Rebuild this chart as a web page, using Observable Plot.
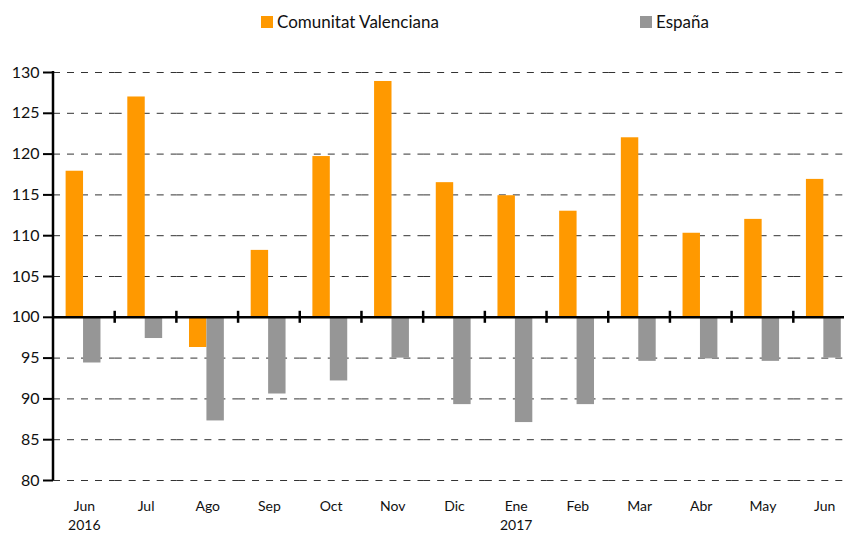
<!DOCTYPE html>
<html><head><meta charset="utf-8">
<script src="https://cdn.jsdelivr.net/npm/d3@7"></script>
<script src="https://cdn.jsdelivr.net/npm/@observablehq/plot@0.6"></script>
<style>
body{margin:0;background:#fff;overflow:hidden;width:844px;height:533px;font-family:Lato,sans-serif;}
#legend{position:relative;height:40px;width:844px;font-size:17px;color:#111;}
.sw{position:absolute;top:16px;width:12px;height:12px;}
.lt{position:absolute;top:12px;line-height:20px;white-space:nowrap;}
#chart{width:844px;overflow:hidden;}
</style></head><body>
<div id="legend"></div>
<div id="chart"></div>
<script>
const months = ["Jun","Jul","Ago","Sep","Oct","Nov","Dic","Ene","Feb","Mar","Abr","May","Jun"];
const years = ["2016","","","","","","","2017","","","","",""];
const seriesNames = ["Comunitat Valenciana","España"];
const seriesColors = ["#FF9900","#969696"];
const valenciana = [117.9,127.0,96.3,108.2,119.7,128.9,116.5,114.9,113.0,122.0,110.3,112.0,116.9];
const espana = [94.4,97.4,87.3,90.6,92.2,95.0,89.3,87.1,89.3,94.6,94.9,94.6,95.0];
const yTicks = [80,85,90,95,100,105,110,115,120,125,130];
const baseline = 100;

const rows = months.flatMap((m, i) => [
  {i, s: seriesNames[0], v: valenciana[i]},
  {i, s: seriesNames[1], v: espana[i]}
]);

// legend
const legend = document.getElementById("legend");
const legendLeft = [261, 640];
seriesNames.forEach((n, k) => {
  const sw = document.createElement("div");
  sw.className = "sw"; sw.style.left = legendLeft[k] + "px"; sw.style.background = seriesColors[k];
  const t = document.createElement("div");
  t.className = "lt"; t.style.left = (legendLeft[k] + 16) + "px"; t.textContent = n;
  legend.append(sw, t);
});

const chart = Plot.plot({
  width: 855, height: 493,
  marginLeft: 53, marginRight: 0, marginTop: 32, marginBottom: 53,
  style: {fontFamily: "Lato, sans-serif", maxWidth: "none", color: "#111"},
  fx: {domain: d3.range(months.length), padding: 0, round: false, label: null, axis: null},
  x: {domain: seriesNames, paddingInner: 0, paddingOuter: 0.77, align: 0.47, round: false, axis: null},
  y: {domain: [80, 130], label: null, axis: null},
  color: {domain: seriesNames, range: seriesColors},
  marks: [
    Plot.ruleY(yTicks.filter(t => t !== baseline), {stroke: "#333", strokeDasharray: "7,7", strokeWidth: 1}),
    Plot.barY(rows, {fx: "i", x: "s", y1: baseline, y2: "v", fill: "s"}),
    Plot.ruleY([baseline], {stroke: "#000", strokeWidth: 2.5}),
    Plot.axisY({ticks: yTicks, tickSize: 10, tickPadding: 4, strokeWidth: 2, fontSize: 16, label: null, anchor: "left", stroke: "#000"}),
    Plot.axisFx({anchor: "bottom", tickSize: 0, tickPadding: 18, fontSize: 14, lineHeight: 1.3,
      tickFormat: i => months[i] + (years[i] ? "\n" + years[i] : ""), label: null})
  ]
});
document.getElementById("chart").append(chart);

// axis line and category boundary ticks, from the plot's own scales
const fx = chart.scale("fx"), y = chart.scale("y");
const g = d3.select(chart).append("g").attr("stroke", "#000").attr("stroke-width", 2.5);
const x0 = fx.apply(0);
g.append("line").attr("x1", x0).attr("x2", x0).attr("y1", y.apply(130) - 1).attr("y2", y.apply(80));
const yb = y.apply(baseline);
d3.range(1, months.length).forEach(i => {
  const xi = fx.apply(i);
  g.append("line").attr("x1", xi).attr("x2", xi).attr("y1", yb - 6).attr("y2", yb + 6);
});
</script>
</body></html>
